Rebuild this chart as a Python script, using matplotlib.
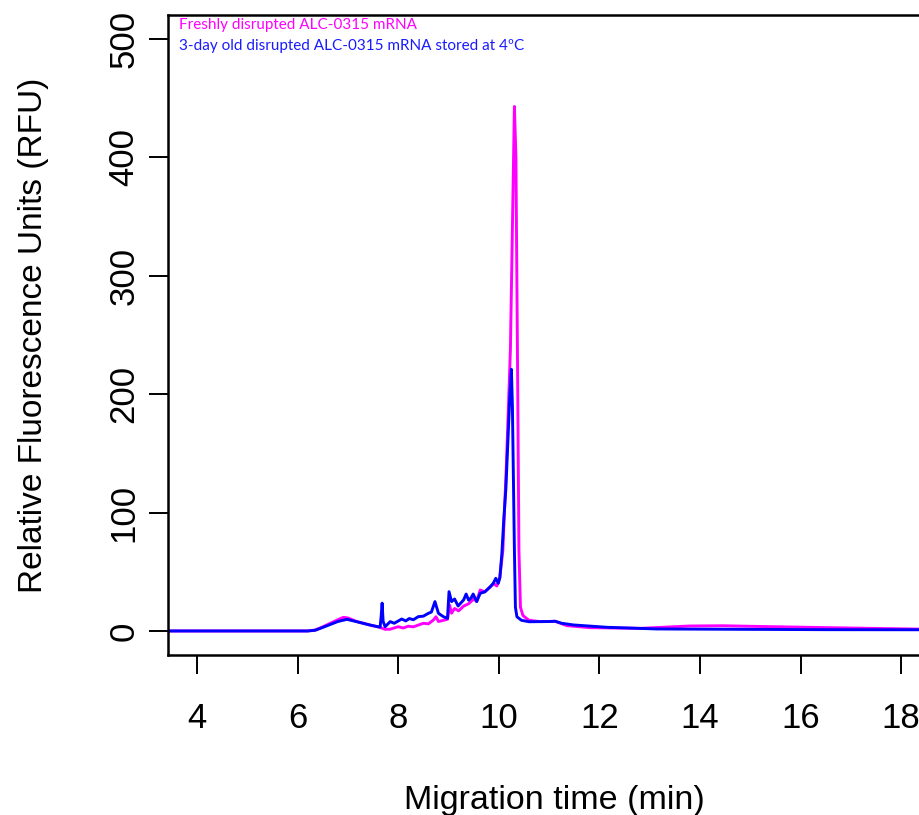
import matplotlib
matplotlib.use('Agg')
from matplotlib import pyplot

# freshly disrupted sample (magenta)
fresh_time = [3.4, 6.2, 6.35, 6.5, 6.65, 6.8, 6.91, 7.0, 7.17, 7.44, 7.64, 7.70, 7.74, 7.84,
              8.0, 8.1, 8.2, 8.3, 8.4, 8.5, 8.6, 8.7, 8.75, 8.8, 8.9, 8.98, 9.02, 9.06,
              9.12, 9.2, 9.3, 9.4, 9.5, 9.56, 9.63, 9.72, 9.8, 9.9, 9.96, 10.02, 10.08,
              10.15, 10.23, 10.27, 10.31, 10.34, 10.37, 10.40, 10.43, 10.48, 10.6, 10.82,
              11.0, 11.12, 11.35, 11.81, 12.81, 13.8, 14.46, 14.93, 16.12, 17.4, 18.8]
fresh_rfu = [0, 0, 0.8, 3.5, 6.5, 9.5, 11.5, 11, 8, 5, 3, 2, 1.4, 1.5,
             3.6, 2.5, 4, 3.5, 5, 6.5, 6, 9.3, 12, 8, 9, 9.9, 22, 15,
             19, 17, 21, 23, 27, 25, 34.6, 33, 36, 40, 38, 45, 68,
             140, 237, 340, 443, 400, 237, 68, 20, 13, 9, 7.9,
             8, 8.2, 4.5, 2.8, 2.2, 4.2, 4.4, 4.0, 3.1, 2.2, 1.3]

# 3-day old sample stored at 4 C (blue)
old_time = [3.4, 6.2, 6.35, 6.5, 6.65, 6.8, 6.98, 7.17, 7.44, 7.64, 7.66, 7.68, 7.70, 7.74,
            7.84, 7.92, 8.07, 8.15, 8.22, 8.30, 8.40, 8.50, 8.60, 8.66, 8.73, 8.80,
            8.90, 8.98, 9.01, 9.06, 9.12, 9.19, 9.30, 9.35, 9.40, 9.45, 9.49, 9.56,
            9.63, 9.72, 9.83, 9.89, 9.94, 9.99, 10.02, 10.06, 10.10, 10.14, 10.18,
            10.22, 10.25, 10.27, 10.31, 10.33, 10.36, 10.45, 10.6, 10.82, 11.0, 11.12,
            11.25, 11.48, 12.15, 13.14, 14.8, 16.5, 18.8]
old_rfu = [0, 0, 0.6, 3, 5.5, 8, 9.8, 7.9, 5, 3.2, 12, 23.5, 8, 3.6,
           7.9, 6.5, 10.1, 8.5, 10.5, 9.5, 12.1, 12.5, 14.9, 16, 24.8, 14.9,
           12, 10.7, 33.2, 24.8, 27, 21.1, 26.2, 31.2, 26, 28, 31.2, 24.8,
           31.8, 33, 37.4, 40.3, 44.5, 40.3, 45, 65, 95, 120, 160,
           200, 221, 190, 68, 20, 12, 9, 7.8, 7.9, 8, 8.2,
           6.5, 5.1, 3.1, 1.7, 1.4, 1.1, 1.0]

x_ticks = [4, 6, 8, 10, 12, 14, 16, 18]
y_ticks = [0, 100, 200, 300, 400, 500]

pyplot.rcParams.update({'font.family': 'Liberation Sans', 'font.size': 25})

fig = pyplot.figure(figsize=(9.2, 8.15), dpi=100)
ax = fig.add_axes([168 / 920, 160 / 815, 772 / 920, 640 / 815])

ax.plot(fresh_time, fresh_rfu, color='#ff00ff', linewidth=2.1)
ax.plot(old_time, old_rfu, color='#0000ff', linewidth=2.1)

ax.set_xlim(3.423, 18.771)
ax.set_ylim(-20.3, 520.3)
ax.set_xticks(x_ticks)
ax.set_yticks(y_ticks)
ax.set_yticklabels([str(v) for v in y_ticks], rotation=90, va='center')

ax.tick_params(direction='out', length=14, width=1.4)
ax.tick_params(axis='x', pad=20)
ax.tick_params(axis='y', pad=6)
for side in ['left', 'bottom', 'top', 'right']:
    ax.spines[side].set_linewidth(1.8)

ax.set_xlabel('Migration time (min)', labelpad=36, fontsize=24.5)
ax.set_ylabel('Relative Fluorescence Units (RFU)', labelpad=42, fontsize=24)

ax.text(0.0142, 0.984, 'Freshly disrupted ALC-0315 mRNA', transform=ax.transAxes,
        color='#ff00ff', fontsize=11, family='Lato', va='center', ha='left')
ax.text(0.0142, 0.951, '3-day old disrupted ALC-0315 mRNA stored at 4ºC', transform=ax.transAxes,
        color='#1a1aff', fontsize=11, family='Lato', va='center', ha='left')

fig.savefig('out.png', dpi=100)
